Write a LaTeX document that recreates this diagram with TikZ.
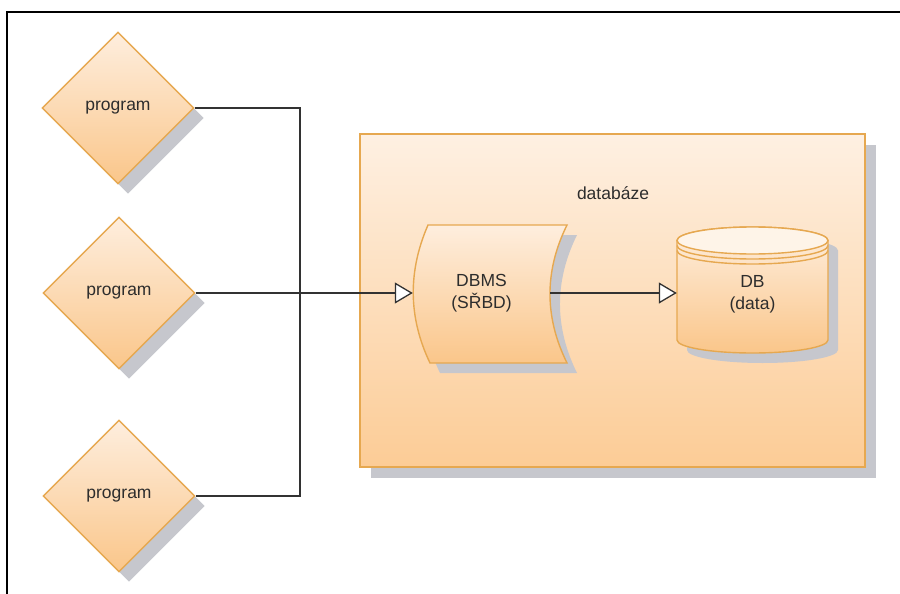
\documentclass[tikz,border=0pt]{standalone}
\usepackage{fontspec}
\setmainfont{Liberation Sans}
\usetikzlibrary{shapes.geometric,shadows,arrows.meta}
\definecolor{obord}{RGB}{230,168,80}
\definecolor{ctop}{RGB}{254,240,226}
\definecolor{cbot}{RGB}{252,204,150}
\definecolor{dtop}{RGB}{254,238,222}
\definecolor{dbot}{RGB}{250,198,138}
\definecolor{shad}{RGB}{198,199,205}
\definecolor{txt}{RGB}{45,45,45}
\definecolor{lne}{RGB}{50,50,50}
\definecolor{captop}{RGB}{254,244,232}
\begin{document}
\begin{tikzpicture}[x=1pt,y=-1pt,
  every node/.style={font=\fontsize{17.5}{22}\selectfont, text=txt, align=center},
  myshadow/.style={drop shadow={shadow xshift=10pt, shadow yshift=-10pt, fill=shad, opacity=1}},
  prog/.style={shape=diamond, minimum width=152pt, minimum height=152pt, inner sep=0pt,
    draw=obord, line width=1.4pt, top color=dtop, bottom color=dbot, myshadow},
  contbox/.style={rectangle, minimum width=505pt, minimum height=333pt, inner sep=0pt,
    draw=obord, line width=1.6pt, top color=ctop, bottom color=cbot,
    drop shadow={shadow xshift=11pt, shadow yshift=-11pt, fill=shad, opacity=1}},
  shapefill/.style={draw=obord, line width=1.4pt, top color=dtop, bottom color=dbot, myshadow},
  conn/.style={draw=lne, line width=1.3pt},
  arr/.style={conn, -{Triangle[length=18pt, width=21pt, fill=white, line width=1.3pt]}},
]
\useasboundingbox (0,0) rectangle (900,594);
\fill[white] (0,0) rectangle (900,594);
% frame
\draw[line width=2pt, black] (7,594) -- (7,12) -- (900,12);

% container
\node[contbox] (dbbox) at (612.5,300.5) {};
\node (lbl) at (613,193) {databáze};

% programs
\node[prog] (p1) at (118,108) {program};
\node[prog] (p2) at (119,293) {program};
\node[prog] (p3) at (119,496) {program};

% DBMS shape
\path[shapefill] (428,225) -- (567,225)
  .. controls (544.3,271) and (544.3,317) .. (567,363)
  -- (430,363)
  .. controls (408,317) and (408,271) .. (428,225) -- cycle;
\node[minimum width=137pt, minimum height=138pt, inner sep=0pt] (dbms) at (481.5,293.5) {DBMS\\(SŘBD)};

% DB cylinder
\path[shapefill] (677,240.5) -- (677,340)
  arc[start angle=180, end angle=360, x radius=75.5pt, y radius=13pt]
  -- (828,240.5)
  arc[start angle=0, end angle=180, x radius=75.5pt, y radius=13.5pt] -- cycle;
\draw[draw=obord, line width=1.4pt, fill=captop] (752.5,240.5) ellipse [x radius=75.5pt, y radius=13.5pt];
\draw[draw=obord, line width=1.4pt] (677,245.5) arc[start angle=180, end angle=360, x radius=75.5pt, y radius=13.5pt];
\draw[draw=obord, line width=1.4pt] (677,250.5) arc[start angle=180, end angle=360, x radius=75.5pt, y radius=13.5pt];
\node[minimum width=151pt, minimum height=100pt, inner sep=0pt] (db) at (752.5,294.5) {DB\\(data)};

% connectors
\coordinate (jt) at (300,108);
\coordinate (jb) at (300,496);
\draw[conn] (p1.east) -- (jt) -- (jb) -- (p3.east);
\draw[arr] (p2.east) -- (p2.east -| dbms.west);
\draw[arr] (dbms.east |- p2.east) -- (db.west |- p2.east);
\end{tikzpicture}
\end{document}
